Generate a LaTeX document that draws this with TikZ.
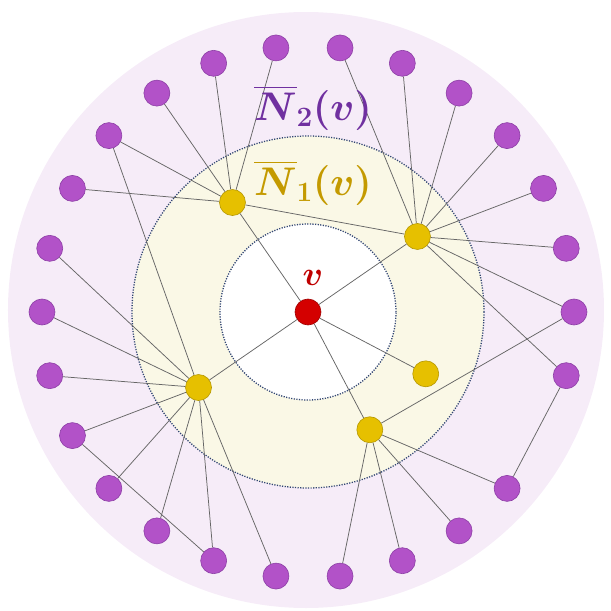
\RequirePackage{fix-cm}
\documentclass[tikz,border=0pt]{standalone}
\usepackage{amsmath,amssymb}
\usepackage{tikz}
\usetikzlibrary{calc}
\definecolor{outerring}{RGB}{246,236,248}
\definecolor{midring}{RGB}{250,248,230}
\definecolor{ringline}{RGB}{50,70,115}
\definecolor{purpfill}{RGB}{178,82,200}
\definecolor{purpline}{RGB}{140,62,165}
\definecolor{yelfill}{RGB}{230,192,0}
\definecolor{yelline}{RGB}{180,150,0}
\definecolor{redfill}{RGB}{212,0,0}
\definecolor{redline}{RGB}{160,0,0}
\definecolor{ntwocol}{RGB}{112,48,160}
\definecolor{nonecol}{RGB}{196,154,0}
\definecolor{vred}{RGB}{192,0,0}

\begin{document}
\begin{tikzpicture}[x=1pt,y=1pt,
  edge/.style={draw=gray!80!black,line width=0.75pt},
  ringbox/.style={draw=ringline,line width=1.3pt,dash pattern=on 1.2pt off 1.4pt},
  purp/.style={circle,draw=purpline,fill=purpfill,line width=0.6pt,minimum size=26pt,inner sep=0pt},
  yel/.style={circle,draw=yelline,fill=yelfill,line width=0.6pt,minimum size=26pt,inner sep=0pt},
  vnode/.style={circle,draw=redline,fill=redfill,line width=0.6pt,minimum size=26pt,inner sep=0pt}]
\useasboundingbox (-308,-299) rectangle (303,312);
% rings
\fill[outerring] (-2,2) circle (298pt);
\filldraw[ringbox,fill=midring] (0,0) circle (176pt);
\filldraw[ringbox,fill=white] (0,0) circle (88pt);

% vertex and first neighbourhood
\node[vnode] (v) at (0,0) {};
\node[yel] (ya) at (124.6:133pt) {};
\node[yel] (yb) at (34.6:133pt) {};
\node[yel] (yc) at (214.6:133pt) {};
\node[yel] (yd) at (-27.7:133pt) {};
\node[yel] (ye) at (-62.3:133pt) {};

% second neighbourhood
\node[purp] (p0) at (0:266pt) {};
\node[purp] (p1) at (13.85:266pt) {};
\node[purp] (p2) at (27.69:266pt) {};
\node[purp] (p3) at (41.54:266pt) {};
\node[purp] (p4) at (55.38:266pt) {};
\node[purp] (p5) at (69.23:266pt) {};
\node[purp] (p6) at (83.08:266pt) {};
\node[purp] (p7) at (96.92:266pt) {};
\node[purp] (p8) at (110.77:266pt) {};
\node[purp] (p9) at (124.62:266pt) {};
\node[purp] (p10) at (138.46:266pt) {};
\node[purp] (p11) at (152.31:266pt) {};
\node[purp] (p12) at (166.15:266pt) {};
\node[purp] (p13) at (180:266pt) {};
\node[purp] (p14) at (193.85:266pt) {};
\node[purp] (p15) at (207.69:266pt) {};
\node[purp] (p16) at (221.54:266pt) {};
\node[purp] (p17) at (235.38:266pt) {};
\node[purp] (p18) at (249.23:266pt) {};
\node[purp] (p19) at (263.08:266pt) {};
\node[purp] (p20) at (276.92:266pt) {};
\node[purp] (p21) at (290.77:266pt) {};
\node[purp] (p22) at (304.62:266pt) {};
\node[purp] (p23) at (318.46:266pt) {};
\node[purp] (p25) at (346.15:266pt) {};

% edges
\draw[edge] (v)--(ya) (v)--(yb) (v)--(yc) (v)--(yd) (v)--(ye) (ya)--(yb);
\draw[edge] (ya)--(p7) (ya)--(p8) (ya)--(p9) (ya)--(p10) (ya)--(p11);
\draw[edge] (yb)--(p6) (yb)--(p5) (yb)--(p4) (yb)--(p3) (yb)--(p2) (yb)--(p1) (yb)--(p0) (yb)--(p25);
\draw[edge] (yc)--(p10) (yc)--(p12) (yc)--(p13) (yc)--(p14) (yc)--(p15) (yc)--(p16) (yc)--(p17) (yc)--(p18) (yc)--(p19);
\draw[edge] (ye)--(p0) (ye)--(p23) (ye)--(p22) (ye)--(p21) (ye)--(p20);
\draw[edge] (p15)--(p18) (p25)--(p23);

% labels
\node[text=ntwocol,font=\fontsize{40}{48}\selectfont\boldmath] (labtwo) at (5,204) {$\overline{N}_2(v)$};
\node[text=nonecol,font=\fontsize{40}{48}\selectfont\boldmath] (labone) at (5,129) {$\overline{N}_1(v)$};
\node[text=vred,font=\fontsize{34}{40}\selectfont\boldmath] (labv) at (5,34) {$v$};
\end{tikzpicture}
\end{document}
